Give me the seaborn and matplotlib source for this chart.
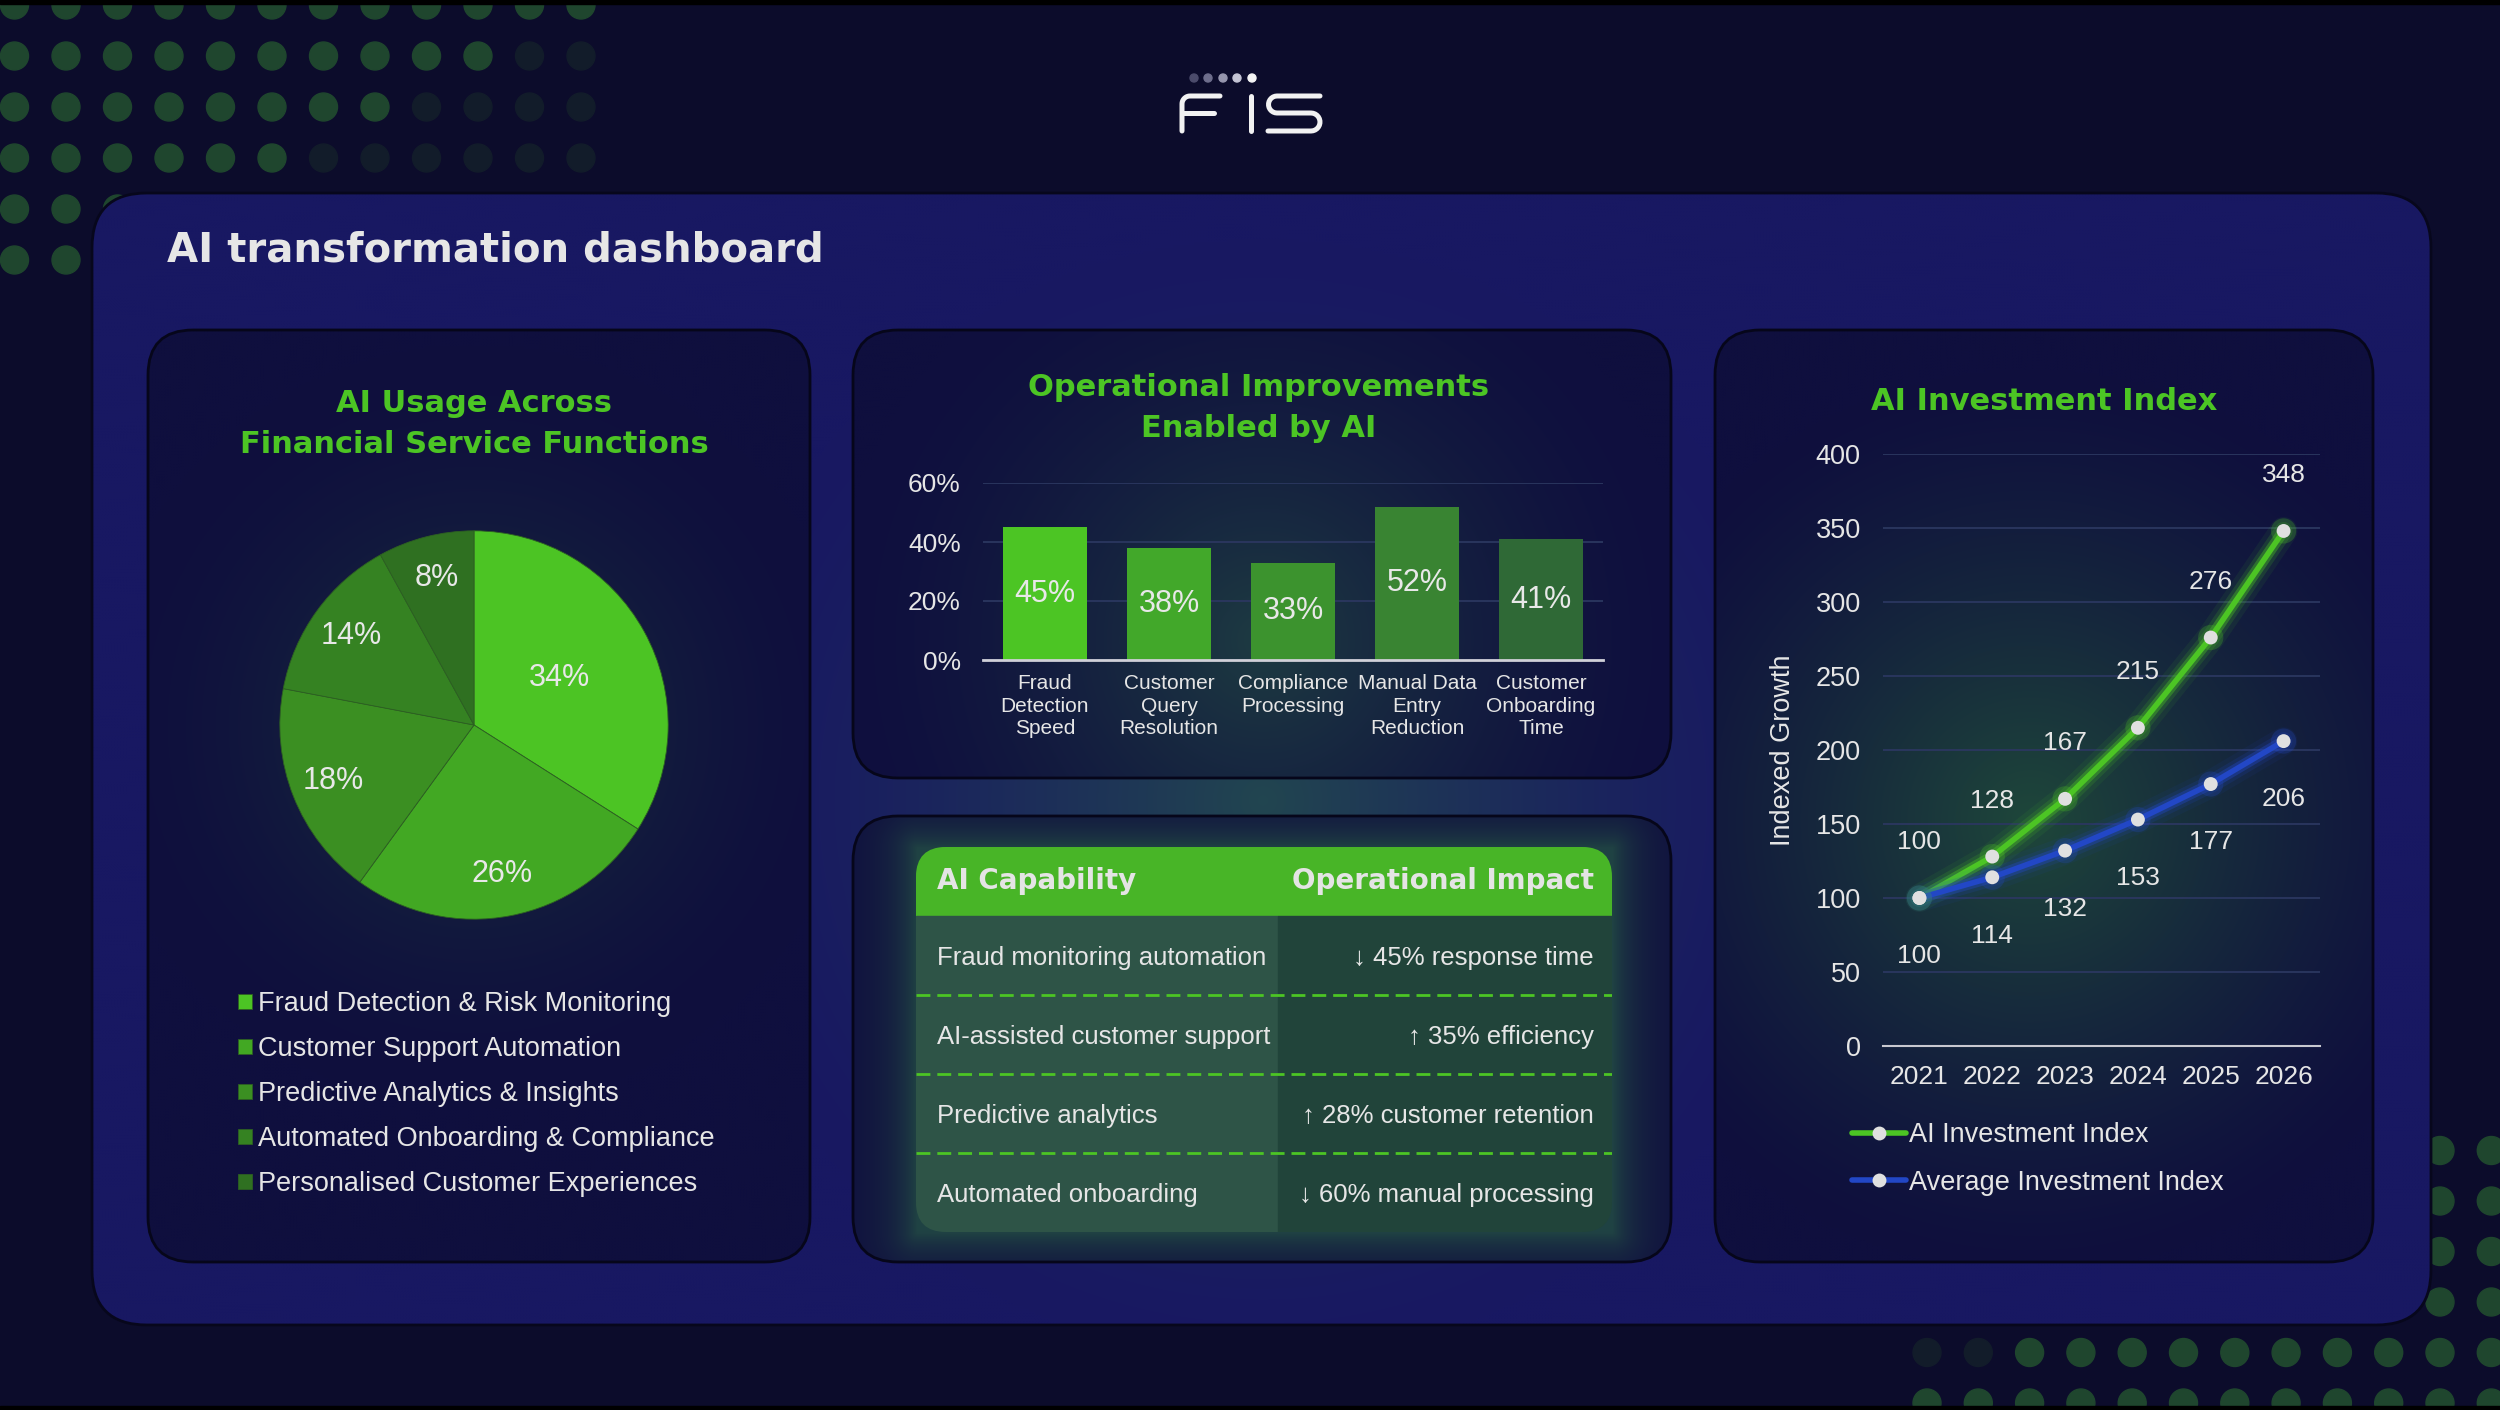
import numpy as np
import matplotlib
matplotlib.use("Agg")
import matplotlib.pyplot as plt
import matplotlib.patheffects as pe
from matplotlib.colors import to_rgb
from matplotlib.patches import FancyBboxPatch, Rectangle, Circle
from matplotlib.lines import Line2D
import seaborn as sns

# ---- data ----
pie_labels = ["Fraud Detection & Risk Monitoring", "Customer Support Automation",
              "Predictive Analytics & Insights", "Automated Onboarding & Compliance",
              "Personalised Customer Experiences"]
pie_values = [34, 26, 18, 14, 8]

bar_categories = ["Fraud\nDetection\nSpeed", "Customer\nQuery\nResolution",
                  "Compliance\nProcessing", "Manual Data\nEntry\nReduction",
                  "Customer\nOnboarding\nTime"]
bar_values = [45, 38, 33, 52, 41]

table_header = ["AI Capability", "Operational Impact"]
table_capability = ["Fraud monitoring automation", "AI-assisted customer support",
                    "Predictive analytics", "Automated onboarding"]
table_impact = ["\u2193 45% response time", "\u2191 35% efficiency",
                "\u2191 28% customer retention", "\u2193 60% manual processing"]

years = [2021, 2022, 2023, 2024, 2025, 2026]
ai_index = [100, 128, 167, 215, 276, 348]
avg_index = [100, 114, 132, 153, 177, 206]

# ---- style ----
GREEN = "#4cc524"
BLUE = "#2247c6"
TXT = "#e6e6e6"
pie_colors = ["#4cc424", "#42a823", "#3b8f22", "#358222", "#2f7021"]
bar_colors = ["#4cc524", "#42a82a", "#3c932e", "#398432", "#2f6936"]

sns.set_theme(style="dark")
plt.rcParams["font.family"] = ["Liberation Sans", "DejaVu Sans"]
plt.rcParams["text.color"] = TXT
plt.rcParams["axes.facecolor"] = "none"
HEAVY = ["DejaVu Sans"]

W, H = 2500, 1410
fig = plt.figure(figsize=(W / 100, H / 100), dpi=100)
fig.patch.set_facecolor("#0c0c2b")

bg = fig.add_axes([0, 0, 1, 1])
bg.set_facecolor("#0c0c2b")
bg.axis("off")


def px_rect(x0, y0, x1, y1):
    return [x0 / W, 1 - y1 / H, (x1 - x0) / W, (y1 - y0) / H]


def rounded(box, r, **kw):
    x0, y0, x1, y1 = box
    return FancyBboxPatch((x0, y0), x1 - x0, y1 - y0,
                          boxstyle=f"round,pad=0,rounding_size={r}", **kw)


def radial(cx, cy, R, p=1.6, s=1.0):
    return lambda X, Y: s * np.clip(1 - np.hypot(X - cx, Y - cy) / R, 0, 1) ** p


def shaded_box(box, r, base, glows, z, edge="#06061a"):
    x0, y0, x1, y1 = box
    X, Y = np.meshgrid(np.arange(x0, x1 + 1, 3.0), np.arange(y0, y1 + 1, 3.0))
    img = np.ones(X.shape + (3,)) * np.array(to_rgb(base))
    for fn, colour in glows:
        t = fn(X, Y)[..., None]
        img = img + (np.array(to_rgb(colour)) - img) * t
    shape = rounded(box, r, fc=base, ec="none", zorder=z, transform=bg.transData)
    bg.add_patch(shape)
    im = bg.imshow(img, extent=(x0, x1, y1, y0), origin="upper",
                   interpolation="bilinear", zorder=z + 0.1)
    im.set_clip_path(shape)
    bg.add_patch(rounded(box, r, fc="none", ec=edge, lw=2, zorder=z + 0.2))
    return shape


# dotted decoration
bright, dim = "#1f462e", "#121c2a"
for i in range(6):
    for j in range(12):
        c = bright if j < 12 - 2 * i else dim
        bg.add_patch(Circle((14.5 + 51.5 * j, 5 + 51 * i), 14, color=c, zorder=1))
        c2 = dim if j < 2 * i else bright
        bg.add_patch(Circle((1927 + 51.3 * j, 1403 - 50.5 * i), 14, color=c2, zorder=1))

# outer panel
shaded_box((92, 193, 2431, 1325), 55, "#181862",
           [(radial(1262, 800, 560, 1.4, 0.95), "#22484f")], 2, edge="#07071c")

# cards
shaded_box((148, 330, 810, 1262), 45, "#0f0f3e",
           [(radial(474, 725, 380, 1.8, 0.9), "#1c3b3c")], 4)
shaded_box((853, 330, 1671, 778), 45, "#0f0f3e",
           [(radial(1262, 640, 430, 1.6, 0.9), "#1f4042")], 4)
shaded_box((1715, 330, 2373, 1262), 45, "#0f0f3e",
           [(radial(2030, 820, 450, 1.3, 0.95), "#1f4a3a")], 4)


def table_glow(X, Y):
    dx = np.maximum(np.maximum(916 - X, X - 1612), 0)
    dy = np.maximum(np.maximum(847 - Y, Y - 1232), 0)
    return 0.6 * np.exp(-np.hypot(dx, dy) / 26)


shaded_box((853, 816, 1671, 1262), 45, "#10103f", [(table_glow, "#2a6446")], 4)

# black edges top / bottom
bg.add_patch(Rectangle((0, 0), W, 4, color="#000000", zorder=6))
bg.add_patch(Rectangle((0, H - 4), W, 4, color="#000000", zorder=6))

# logo
lk = dict(color="#f2f2f2", lw=3.6, solid_capstyle="round", solid_joinstyle="round", zorder=7)
a = np.linspace(np.pi, 1.5 * np.pi, 12)
bg.plot(np.r_[1182, 1190 + 8 * np.cos(a), 1220], np.r_[131, 104 + 8 * np.sin(a), 96], **lk)
bg.plot([1182, 1214], [113, 113], **lk)
bg.plot([1251, 1251], [96, 131], **lk)
a1 = np.linspace(1.5 * np.pi, 0.5 * np.pi, 14)
a2 = np.linspace(1.5 * np.pi, 2.5 * np.pi, 14)
bg.plot(np.r_[1320, 1277 + 8.5 * np.cos(a1), 1311 + 9 * np.cos(a2), 1268],
        np.r_[96, 104.5 + 8.5 * np.sin(a1), 122 + 9 * np.sin(a2), 131], **lk)
for x, c in zip([1194, 1208, 1223, 1237, 1252],
                ["#4b4b6b", "#6e6e8c", "#9696ae", "#c4c4d4", "#f4f4f4"]):
    bg.add_patch(Circle((x, 78), 4, color=c, zorder=7))

# titles
bg.text(167, 250, "AI transformation dashboard", fontsize=29, fontweight="bold",
        family=HEAVY, color="#e6e6e6", va="center", zorder=8)
for x, y, t in [(474, 424, "AI Usage Across\nFinancial Service Functions"),
                (1259, 408, "Operational Improvements\nEnabled by AI"),
                (2044, 402, "AI Investment Index")]:
    bg.text(x, y, t, fontsize=22, fontweight="bold", family=HEAVY, color=GREEN,
            ha="center", va="center", linespacing=1.55, zorder=8)

bg.set_xlim(0, W)
bg.set_ylim(H, 0)
bg.set_aspect("auto")

# ---- pie ----
ax_pie = fig.add_axes(px_rect(274, 525, 674, 925))
wedges, _, autotexts = ax_pie.pie(
    pie_values, colors=pie_colors, startangle=90, counterclock=False,
    autopct=lambda p: f"{p:.0f}%", pctdistance=0.78,
    wedgeprops=dict(edgecolor="#2d5f22", linewidth=0.6),
    textprops=dict(color="#e8e8e8", fontsize=22))
x0, y0 = autotexts[0].get_position()
autotexts[0].set_position((x0 * 0.5 / 0.78, y0 * 0.5 / 0.78))
ax_pie.set_xlim(-1.03, 1.03)
ax_pie.set_ylim(-1.03, 1.03)
ax_pie.legend(wedges, pie_labels, loc="upper left", bbox_to_anchor=(238 / W, 1 - 991 / H),
              bbox_transform=fig.transFigure, frameon=False, fontsize=19.5,
              handlelength=0.5, handleheight=0.5, handletextpad=0.25,
              labelspacing=0.7, borderpad=0, borderaxespad=0, labelcolor="#e6e6e6")

# ---- bars ----
ax_bar = fig.add_axes(px_rect(983, 483, 1603, 660))
sns.barplot(x=bar_categories, y=bar_values, hue=bar_categories, palette=bar_colors,
            legend=False, width=0.68, saturation=1, edgecolor="none", linewidth=0,
            ax=ax_bar)
for cont in ax_bar.containers:
    ax_bar.bar_label(cont, labels=[f"{v:.0f}%" for v in cont.datavalues],
                     label_type="center", fontsize=22, color="#e8e8e8")
ax_bar.set_xlim(-0.5, 4.5)
ax_bar.set_ylim(0, 60)
ax_bar.set_yticks([0, 20, 40, 60], labels=["0%", "20%", "40%", "60%"])
ax_bar.grid(axis="y", color="#2b3760", lw=1.3)
ax_bar.set_axisbelow(True)
for s in ["top", "left", "right"]:
    ax_bar.spines[s].set_visible(False)
ax_bar.spines["bottom"].set_color("#d0d0d8")
ax_bar.spines["bottom"].set_linewidth(2)
ax_bar.tick_params(axis="y", labelsize=19, labelcolor=TXT, pad=16, length=0)
ax_bar.tick_params(axis="x", labelsize=15, labelcolor=TXT, pad=10, length=0)
for lab in ax_bar.get_xticklabels():
    lab.set_linespacing(1.25)
ax_bar.set_xlabel("")
ax_bar.set_ylabel("")

# ---- table ----
ax_tab = fig.add_axes(px_rect(916, 847, 1612, 1232))
ax_tab.axis("off")
n_rows = len(table_capability)
head_h = 0.873
split = 0.52
clip = rounded((916, 847, 1612, 1232), 30, transform=bg.transData)
cells = [Rectangle((0, -head_h), 1, head_h, color="#48b527")]
for i in range(n_rows):
    cells.append(Rectangle((0, i), split, 1, color="#2e5447"))
    cells.append(Rectangle((split, i), 1 - split, 1, color="#21443a"))
for c in cells:
    ax_tab.add_patch(c)
    c.set_clip_path(clip)
ax_tab.hlines(range(1, n_rows), 0, 1, colors=GREEN, linestyles=(0, (5, 2.5)), lw=2)
ax_tab.text(0.03, -head_h / 2, table_header[0], fontsize=20, fontweight="bold",
            family=HEAVY, color="#e4e4e4", va="center")
ax_tab.text(0.974, -head_h / 2, table_header[1], fontsize=20, fontweight="bold",
            family=HEAVY, color="#e4e4e4", va="center", ha="right")
for i, (cap, imp) in enumerate(zip(table_capability, table_impact)):
    ax_tab.text(0.03, i + 0.53, cap, fontsize=18.5, color=TXT, va="center")
    ax_tab.text(0.974, i + 0.53, imp, fontsize=18.5, color=TXT, va="center", ha="right")
ax_tab.set_xlim(0, 1)
ax_tab.set_ylim(n_rows, -head_h)

# ---- lines ----
ax_line = fig.add_axes(px_rect(1883, 454, 2320, 1046))


def glow(c):
    return [pe.Stroke(linewidth=20, foreground=c, alpha=0.08),
            pe.Stroke(linewidth=13, foreground=c, alpha=0.16),
            pe.Stroke(linewidth=8, foreground=c, alpha=0.38), pe.Normal()]


for vals, col, off in [(ai_index, GREEN, 40), (avg_index, BLUE, -42)]:
    sns.lineplot(x=years, y=vals, color=col, linewidth=4, ax=ax_line, legend=False)
    ax_line.lines[-1].set_path_effects(glow(col))
    sns.scatterplot(x=years, y=vals, color=col, s=330, alpha=0.25, edgecolor="none",
                    ax=ax_line, legend=False, zorder=4)
    sns.scatterplot(x=years, y=vals, color="#e0e0e0", s=100, edgecolor="none",
                    ax=ax_line, legend=False, zorder=5)
    for yr, v in zip(years, vals):
        ax_line.annotate(str(v), (yr, v), xytext=(0, off), textcoords="offset points",
                         ha="center", va="center", fontsize=19, color=TXT)

ax_line.set_xlim(2020.5, 2026.5)
ax_line.set_ylim(0, 400)
ax_line.set_xticks(years)
ax_line.set_yticks(range(0, 401, 50))
ax_line.grid(axis="y", color="#2b3760", lw=1.3)
ax_line.grid(axis="x", visible=False)
ax_line.set_axisbelow(True)
for s in ["top", "left", "right"]:
    ax_line.spines[s].set_visible(False)
ax_line.spines["bottom"].set_color("#c8c8d0")
ax_line.spines["bottom"].set_linewidth(1.5)
ax_line.tick_params(axis="y", labelsize=19.5, labelcolor=TXT, pad=16, length=0)
ax_line.tick_params(axis="x", labelsize=19, labelcolor=TXT, pad=14, length=0)
ax_line.set_ylabel("Indexed Growth", fontsize=19.5, color=TXT)
ax_line.yaxis.set_label_coords(-0.2, 0.5)
handles = [Line2D([0], [0], color=GREEN, lw=4, marker="o", markersize=10,
                  markerfacecolor="#e0e0e0", markeredgewidth=0),
           Line2D([0], [0], color=BLUE, lw=4, marker="o", markersize=10,
                  markerfacecolor="#e0e0e0", markeredgewidth=0)]
ax_line.legend(handles, ["AI Investment Index", "Average Investment Index"],
               loc="upper left", bbox_to_anchor=(1852 / W, 1 - 1122 / H),
               bbox_transform=fig.transFigure, frameon=False, fontsize=19.5,
               handlelength=2.0, handletextpad=0.1, labelspacing=0.8,
               borderpad=0, borderaxespad=0, labelcolor=TXT)

fig.savefig("out.png", dpi=100, facecolor=fig.get_facecolor())
